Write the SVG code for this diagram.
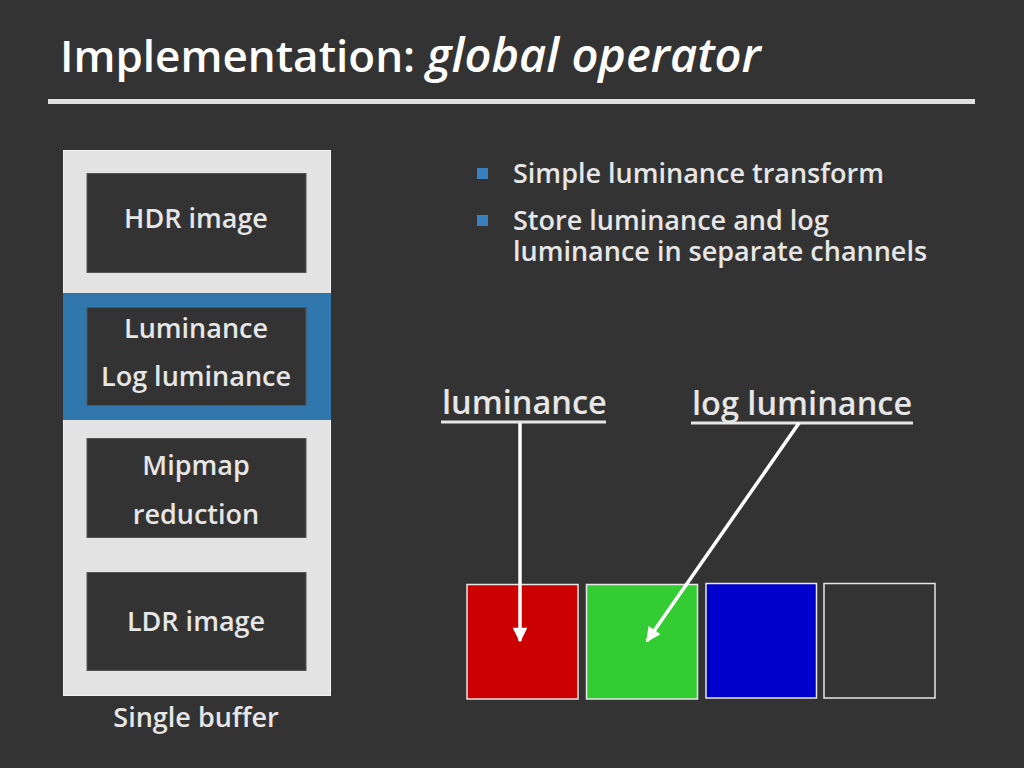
<svg xmlns="http://www.w3.org/2000/svg" width="1024" height="768" viewBox="0 0 1024 768">
<defs>
<style>
.t{font-family:"Open Sans","DejaVu Sans",sans-serif;font-weight:600;fill:#e6e6e6}
.box{fill:#333333;stroke:#555;stroke-width:1}
.c{text-anchor:middle;font-size:27px}
.b{font-size:27px}
.sw{stroke:#e6e6e6;stroke-width:1.5}
.arr{stroke:#ffffff;stroke-width:3.5;fill:none}
</style>
<marker id="ah" viewBox="0 0 10 10" refX="9" refY="5" markerWidth="4.6" markerHeight="4.2" orient="auto" markerUnits="strokeWidth">
<path d="M0,0 L10,5 L0,10 z" fill="#ffffff"/>
</marker>
</defs>
<rect width="1024" height="768" fill="#333333"/>
<g id="title">
<text class="t" x="60" y="72" font-size="44" style="fill:#fff">Implementation: <tspan font-style="italic" font-size="47">global operator</tspan></text>
<rect x="48" y="99" width="927" height="5" fill="#e0e0e0"/>
</g>
<g id="buffer">
<rect x="63.5" y="150.5" width="267" height="545" fill="#e3e3e3" stroke="#f2f2f2" stroke-width="1"/>
<rect x="63" y="293" width="268" height="127" fill="#2f77ad"/>
</g>
<g id="hdr">
<rect class="box" x="87" y="173.5" width="219" height="99"/>
<text class="t c" x="196" y="228">HDR image</text>
</g>
<g id="lum">
<rect class="box" x="87" y="307.5" width="219" height="98"/>
<text class="t c" x="196" y="338">Luminance</text>
<text class="t c" x="196" y="386">Log luminance</text>
</g>
<g id="mip">
<rect class="box" x="87" y="438.5" width="219" height="99"/>
<text class="t c" x="196" y="475">Mipmap</text>
<text class="t c" x="196" y="524">reduction</text>
</g>
<g id="ldr">
<rect class="box" x="87" y="572.5" width="219" height="98"/>
<text class="t c" x="196" y="631">LDR image</text>
</g>
<text class="t c" x="196" y="727">Single buffer</text>
<g id="bullets">
<rect x="477" y="168" width="11" height="11" fill="#3a80c0"/>
<text class="t b" x="513" y="183">Simple luminance transform</text>
<rect x="477" y="215" width="11" height="11" fill="#3a80c0"/>
<text class="t b" x="513" y="230">Store luminance and log<tspan x="513" y="261">luminance in separate channels</tspan></text>
</g>
<g id="labels">
<text class="t" x="442" y="414" font-size="32.5">luminance</text>
<rect x="441" y="420.5" width="165" height="3" fill="#e6e6e6"/>
<text class="t" x="692" y="415" font-size="32.5">log luminance</text>
<rect x="691" y="421.5" width="222" height="3" fill="#e6e6e6"/>
</g>
<g id="red"><rect class="sw" x="467" y="584.5" width="111" height="114.5" fill="#cc0000"/></g>
<g id="green"><rect class="sw" x="586.5" y="584.5" width="111" height="114.5" fill="#33cc33"/></g>
<g id="blue"><rect class="sw" x="706" y="583.5" width="110.5" height="114.5" fill="#0000cc"/></g>
<g id="alpha"><rect class="sw" x="824" y="583.5" width="111" height="114.5" fill="#333333"/></g>
<g id="connectors">
<line class="arr" x1="520" y1="423" x2="520" y2="641" marker-end="url(#ah)"/>
<line class="arr" x1="799" y1="423" x2="647" y2="641" marker-end="url(#ah)"/>
</g>
</svg>
